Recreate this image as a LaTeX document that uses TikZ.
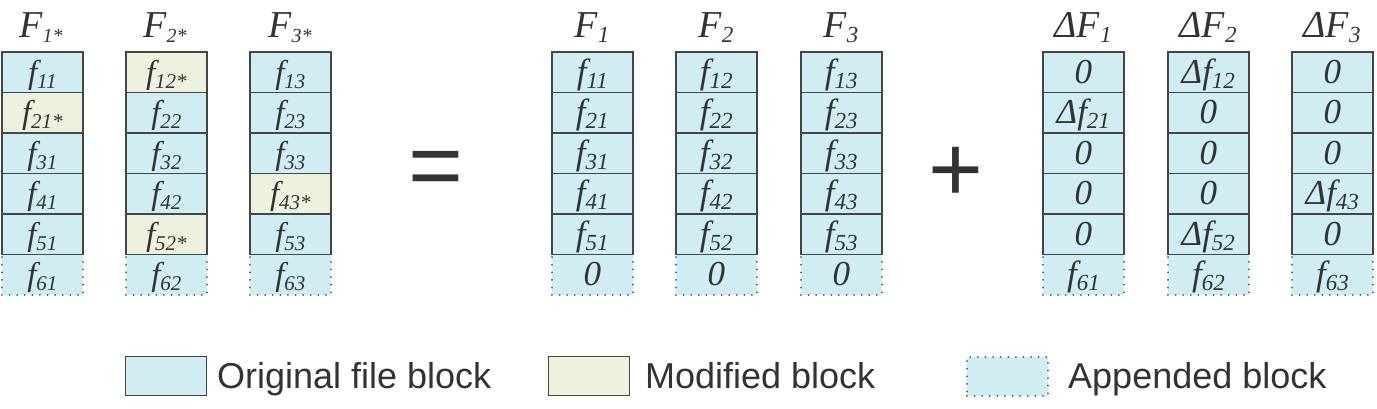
\documentclass[tikz,border=0pt]{standalone}
\usepackage{fontspec}
\setmainfont{Liberation Serif}[ItalicFont={Liberation Serif Italic}]
\newfontfamily\serfit{Liberation Serif Italic}
\newfontfamily\legfont{Liberation Sans}
\definecolor{blk}{HTML}{CFEDF3}
\definecolor{mod}{HTML}{EDF2DF}
\definecolor{edge}{HTML}{454545}
\definecolor{ink}{HTML}{333333}
\definecolor{dotc}{HTML}{555555}
% label: main size, sub size, main text, sub text
\newcommand\lbl[4]{{\serfit\fontsize{#1}{#1}\selectfont #3}\raisebox{-5pt}{\serfit\fontsize{#2}{#2}\selectfont #4}}
\newcommand\zz{{\serfit\fontsize{35}{35}\selectfont 0}}
\newcommand\blkcell[5]{\node[#4] (#1) at ({#2},{51+(#3-1)*40.5}) {#5};}
\tikzset{
  cellbase/.style={anchor=north west, minimum width=81pt, minimum height=40.5pt,
    inner sep=0pt, text height=22pt, text depth=0pt, text=black!80},
  orig/.style={cellbase, draw=edge, line width=1.7pt, fill=blk},
  modi/.style={cellbase, draw=edge, line width=1.7pt, fill=mod},
  appd/.style={cellbase, fill=blk, draw=dotc, line width=1.8pt, line cap=round,
    dash pattern=on 0.1pt off 7.5pt},
  ttl/.style={anchor=base, inner sep=0pt, text=black!80},
  legbox/.style={anchor=north west, minimum width=81pt, minimum height=39pt, inner sep=0pt},
  legtxt/.style={anchor=base west, inner sep=0pt, text=ink, font=\legfont\fontsize{36}{36}\selectfont},
  op/.style={anchor=base, inner sep=0pt, text=ink, font=\legfont\fontsize{94}{94}\selectfont}
}
\begin{document}
\begin{tikzpicture}[x=1pt,y=-1pt]
\useasboundingbox (0,0) rectangle (1377,408);
% ---- titles
\node[ttl] (t1) at (41,37) {\lbl{38}{20}{F}{1*}};
\node[ttl] (t2) at (165,37) {\lbl{38}{20}{F}{2*}};
\node[ttl] (t3) at (290,37) {\lbl{38}{20}{F}{3*}};
\node[ttl] (t4) at (592,37) {\lbl{38}{23}{F}{1}};
\node[ttl] (t5) at (716,37) {\lbl{38}{23}{F}{2}};
\node[ttl] (t6) at (841,37) {\lbl{38}{23}{F}{3}};
\node[ttl] (t7) at (1083,37) {\lbl{38}{23}{ΔF}{1}};
\node[ttl] (t8) at (1208,37) {\lbl{38}{23}{ΔF}{2}};
\node[ttl] (t9) at (1332,37) {\lbl{38}{23}{ΔF}{3}};
% ---- column 1 (F1*)
\blkcell{a6}{1}{6}{appd}{\lbl{33}{21}{f}{61}}
\blkcell{a1}{1}{1}{orig}{\lbl{33}{21}{f}{11}}
\blkcell{a2}{1}{2}{modi}{\lbl{33}{21}{f}{21*}}
\blkcell{a3}{1}{3}{orig}{\lbl{33}{21}{f}{31}}
\blkcell{a4}{1}{4}{orig}{\lbl{33}{21}{f}{41}}
\blkcell{a5}{1}{5}{orig}{\lbl{33}{21}{f}{51}}
% ---- column 2 (F2*)
\blkcell{b6}{125}{6}{appd}{\lbl{33}{21}{f}{62}}
\blkcell{b1}{125}{1}{modi}{\lbl{33}{21}{f}{12*}}
\blkcell{b2}{125}{2}{orig}{\lbl{33}{21}{f}{22}}
\blkcell{b3}{125}{3}{orig}{\lbl{33}{21}{f}{32}}
\blkcell{b4}{125}{4}{orig}{\lbl{33}{21}{f}{42}}
\blkcell{b5}{125}{5}{modi}{\lbl{33}{21}{f}{52*}}
% ---- column 3 (F3*)
\blkcell{c6}{249}{6}{appd}{\lbl{33}{21}{f}{63}}
\blkcell{c1}{249}{1}{orig}{\lbl{33}{21}{f}{13}}
\blkcell{c2}{249}{2}{orig}{\lbl{33}{21}{f}{23}}
\blkcell{c3}{249}{3}{orig}{\lbl{33}{21}{f}{33}}
\blkcell{c4}{249}{4}{modi}{\lbl{33}{21}{f}{43*}}
\blkcell{c5}{249}{5}{orig}{\lbl{33}{21}{f}{53}}
% ---- column 4 (F1)
\blkcell{d6}{551}{6}{appd}{\zz}
\blkcell{d1}{551}{1}{orig}{\lbl{35}{23}{f}{11}}
\blkcell{d2}{551}{2}{orig}{\lbl{35}{23}{f}{21}}
\blkcell{d3}{551}{3}{orig}{\lbl{35}{23}{f}{31}}
\blkcell{d4}{551}{4}{orig}{\lbl{35}{23}{f}{41}}
\blkcell{d5}{551}{5}{orig}{\lbl{35}{23}{f}{51}}
% ---- column 5 (F2)
\blkcell{e6}{675}{6}{appd}{\zz}
\blkcell{e1}{675}{1}{orig}{\lbl{35}{23}{f}{12}}
\blkcell{e2}{675}{2}{orig}{\lbl{35}{23}{f}{22}}
\blkcell{e3}{675}{3}{orig}{\lbl{35}{23}{f}{32}}
\blkcell{e4}{675}{4}{orig}{\lbl{35}{23}{f}{42}}
\blkcell{e5}{675}{5}{orig}{\lbl{35}{23}{f}{52}}
% ---- column 6 (F3)
\blkcell{g6}{800}{6}{appd}{\zz}
\blkcell{g1}{800}{1}{orig}{\lbl{35}{23}{f}{13}}
\blkcell{g2}{800}{2}{orig}{\lbl{35}{23}{f}{23}}
\blkcell{g3}{800}{3}{orig}{\lbl{35}{23}{f}{33}}
\blkcell{g4}{800}{4}{orig}{\lbl{35}{23}{f}{43}}
\blkcell{g5}{800}{5}{orig}{\lbl{35}{23}{f}{53}}
% ---- column 7 (dF1)
\blkcell{h6}{1042}{6}{appd}{\lbl{35}{23}{f}{61}}
\blkcell{h1}{1042}{1}{orig}{\zz}
\blkcell{h2}{1042}{2}{orig}{\lbl{35}{23}{Δf}{21}}
\blkcell{h3}{1042}{3}{orig}{\zz}
\blkcell{h4}{1042}{4}{orig}{\zz}
\blkcell{h5}{1042}{5}{orig}{\zz}
% ---- column 8 (dF2)
\blkcell{k6}{1167}{6}{appd}{\lbl{35}{23}{f}{62}}
\blkcell{k1}{1167}{1}{orig}{\lbl{35}{23}{Δf}{12}}
\blkcell{k2}{1167}{2}{orig}{\zz}
\blkcell{k3}{1167}{3}{orig}{\zz}
\blkcell{k4}{1167}{4}{orig}{\zz}
\blkcell{k5}{1167}{5}{orig}{\lbl{35}{23}{Δf}{52}}
% ---- column 9 (dF3)
\blkcell{m6}{1291}{6}{appd}{\lbl{35}{23}{f}{63}}
\blkcell{m1}{1291}{1}{orig}{\zz}
\blkcell{m2}{1291}{2}{orig}{\zz}
\blkcell{m3}{1291}{3}{orig}{\zz}
\blkcell{m4}{1291}{4}{orig}{\lbl{35}{23}{Δf}{43}}
\blkcell{m5}{1291}{5}{orig}{\zz}
% ---- operators
\node[op] (eq) at (436,197) {=};
\node[op] (plus) at (956,201) {+};
% ---- legend
\node[legbox, fill=blk, draw=edge, line width=1.2pt] (l1) at (125,356) {};
\node[legtxt] (lt1) at (217,388) {Original file block};
\node[legbox, fill=mod, draw=edge, line width=1.2pt] (l2) at (548,356) {};
\node[legtxt] (lt2) at (645,388) {Modified block};
\node[legbox, fill=blk, draw=dotc, line width=1.8pt, line cap=round, dash pattern=on 0.1pt off 7.5pt] (l3) at (966,356) {};
\node[legtxt] (lt3) at (1068,388) {Appended block};
\end{tikzpicture}
\end{document}
